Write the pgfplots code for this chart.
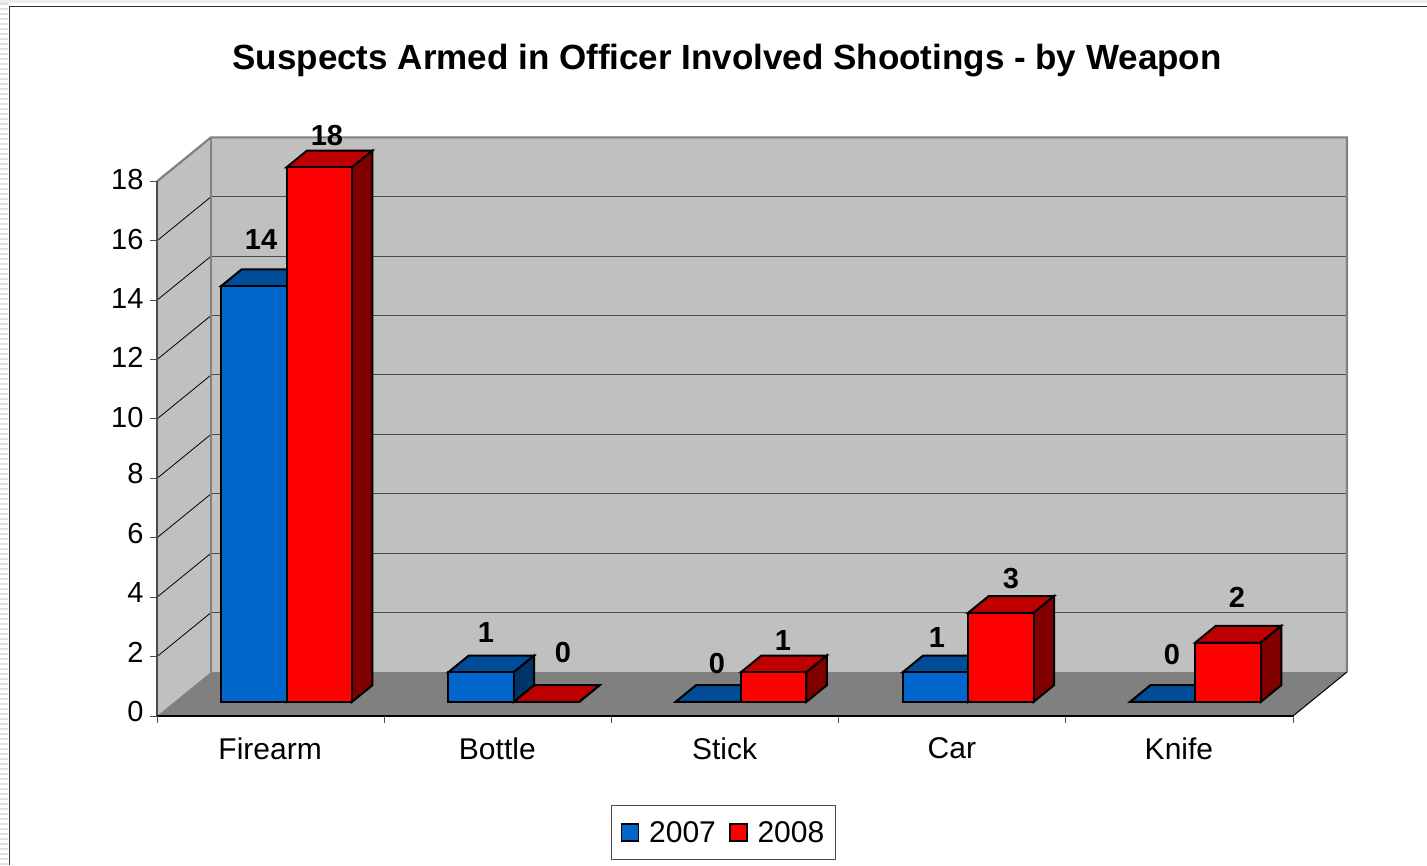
\documentclass[border=0pt]{standalone}
\usepackage{fontspec}
\setmainfont{Liberation Sans}
\usepackage{pgfplots}
\pgfplotsset{compat=1.18}

\definecolor{blueF}{RGB}{0,102,204}
\definecolor{blueT}{RGB}{0,76,153}
\definecolor{blueS}{RGB}{0,51,102}
\definecolor{redF}{RGB}{255,0,0}
\definecolor{redT}{RGB}{191,0,0}
\definecolor{redS}{RGB}{128,0,0}
\definecolor{wall}{RGB}{192,192,192}
\definecolor{floorc}{RGB}{128,128,128}

% one 3D column: category, series slot (0 or 1), value, colour prefix
\newcommand{\column}[4]{%
  \pgfmathsetmacro{\xa}{#1+0.206+#2*0.288}%
  \pgfmathsetmacro{\xb}{\xa+0.288}%
  \addplot3[barface,fill=#4T] coordinates {(\xa,0.32,#3)(\xb,0.32,#3)(\xb,0.70,#3)(\xa,0.70,#3)} -- cycle;
  \addplot3[barface,fill=#4S] coordinates {(\xb,0.32,0)(\xb,0.70,0)(\xb,0.70,#3)(\xb,0.32,#3)} -- cycle;
  \addplot3[barface,fill=#4F] coordinates {(\xa,0.32,0)(\xb,0.32,0)(\xb,0.32,#3)(\xa,0.32,#3)} -- cycle;
}

\pgfplotsset{
  squarelegend/.style={legend image code/.code={\draw[##1] (0pt,-8.5pt) rectangle (17pt,8.5pt);}},
}

\begin{document}
\begin{tikzpicture}[x=1pt,y=1pt]
\path[use as bounding box] (0,0) rectangle (1427,865);
% page edge left of the chart frame
\fill[black!7] (0,862) rectangle (1427,865);
\foreach \s in {0,5,...,860} {\fill[black!12] (0,\s) rectangle (8,\s+2);}
\draw[black!80,line width=1.5pt] (9.5,0) -- (9.5,858.5) -- (1427,858.5);

\begin{axis}[
    at={(157pt,149pt)},anchor=origin,
    x={(227.2pt,0pt)},y={(54pt,44pt)},z={(0pt,29.7pt)},
    xmin=0,xmax=5,ymin=0,ymax=1,zmin=0,zmax=18,
    clip=false,
    axis line style={draw=none},
    major tick length=0pt,
    ytick=\empty,
    xtick={0.5,1.5,2.5,3.5,4.5},
    xticklabels={Firearm,Bottle,Stick,Car,Knife},
    ztick={0,2,...,18},
    ztick pos=left,xtick pos=left,
    tick label style={font=\fontsize{29}{29}\selectfont},
    xticklabel style={font=\fontsize{30}{30}\selectfont,xshift=8.5pt,yshift=-18pt},
    typeset ticklabels with strut,
    zticklabel style={xshift=-10pt,yshift=4.5pt},
    /pgf/number format/assume math mode=true,
    title={Suspects Armed in Officer Involved Shootings - by Weapon},
    title style={font=\fontsize{35}{35}\selectfont\bfseries,at={(axis cs:2.509,0,21.87)},anchor=center},
    legend columns=2,
    legend cell align=left,
    legend style={at={(axis cs:2.493,0,-3.92)},anchor=center,draw=black!70,line width=1pt,
      inner xsep=9pt,inner ysep=14pt,
      font=\fontsize{30}{30}\selectfont,
      /tikz/every odd column/.append style={column sep=8pt},
      /tikz/every even column/.append style={column sep=11pt}},
    barface/.style={draw=black,line width=2pt,line join=miter,mark=none},
]
\addlegendimage{squarelegend,fill=blueF,draw=black,line width=1.6pt}
\addlegendentry{2007}
\addlegendimage{squarelegend,fill=redF,draw=black,line width=1.6pt}
\addlegendentry{2008}

% walls and floor
\addplot3[fill=wall,draw=none,mark=none] coordinates {(0,0,0)(0,1,0)(0,1,18)(0,0,18)} -- cycle;
\addplot3[fill=wall,draw=none,mark=none] coordinates {(0,1,0)(5,1,0)(5,1,18)(0,1,18)} -- cycle;
\addplot3[fill=floorc,draw=none,mark=none] coordinates {(0,0,0)(5,0,0)(5,1,0)(0,1,0)} -- cycle;

% grid lines on the walls
\pgfplotsinvokeforeach{2,4,...,16}{
  \addplot3[black,line width=0.8pt,mark=none] coordinates {(0,0,#1)(0,1,#1)};
  \addplot3[black!70,line width=1pt,mark=none] coordinates {(0,1,#1)(5,1,#1)};
}
\addplot3[floorc,line width=2.2pt,mark=none] coordinates {(0,0,18)(0,1,18)(5,1,18)(5,1,0)};
\addplot3[floorc,line width=2.2pt,mark=none] coordinates {(0,1,18)(0,1,0)};
\addplot3[black!70,line width=1.4pt,mark=none] coordinates {(0,0,18)(0,0,0)};
\addplot3[black,line width=1pt,mark=none] coordinates {(5,0,0)(5,1,0)};
\addplot3[black,line width=1.4pt,mark=none] coordinates {(0,0,0)(5,0,0)};

% tick marks
\pgfplotsinvokeforeach{0,2,...,18}{
  \addplot3[black!70,line width=1pt,mark=none] coordinates {(-0.03,0,#1)(0,0,#1)};
}
\pgfplotsinvokeforeach{0,1,...,5}{
  \addplot3[black!70,line width=1pt,mark=none] coordinates {(#1,0,0)(#1,0,-0.25)};
}

% columns, back to front within each category
\column{0}{0}{14}{blue}
\column{0}{1}{18}{red}
\column{1}{0}{1}{blue}
\column{1}{1}{0}{red}
\column{2}{0}{0}{blue}
\column{2}{1}{1}{red}
\column{3}{0}{1}{blue}
\column{3}{1}{3}{red}
\column{4}{0}{0}{blue}
\column{4}{1}{2}{red}

% value labels
\begin{scope}[every node/.style={font=\fontsize{29}{29}\selectfont\bfseries}]
\node at (axis cs:0.748,0,19.56) {18};
\node at (axis cs:0.458,0,16.05) {14};
\node at (axis cs:1.448,0,2.82) {1};
\node at (axis cs:1.787,0,2.15) {0};
\node at (axis cs:2.465,0,1.78) {0};
\node at (axis cs:2.755,0,2.55) {1};
\node at (axis cs:3.433,0,2.65) {1};
\node at (axis cs:3.759,0,4.63) {3};
\node at (axis cs:4.467,0,2.08) {0};
\node at (axis cs:4.753,0,3.99) {2};
\end{scope}
\end{axis}
\end{tikzpicture}
\end{document}
